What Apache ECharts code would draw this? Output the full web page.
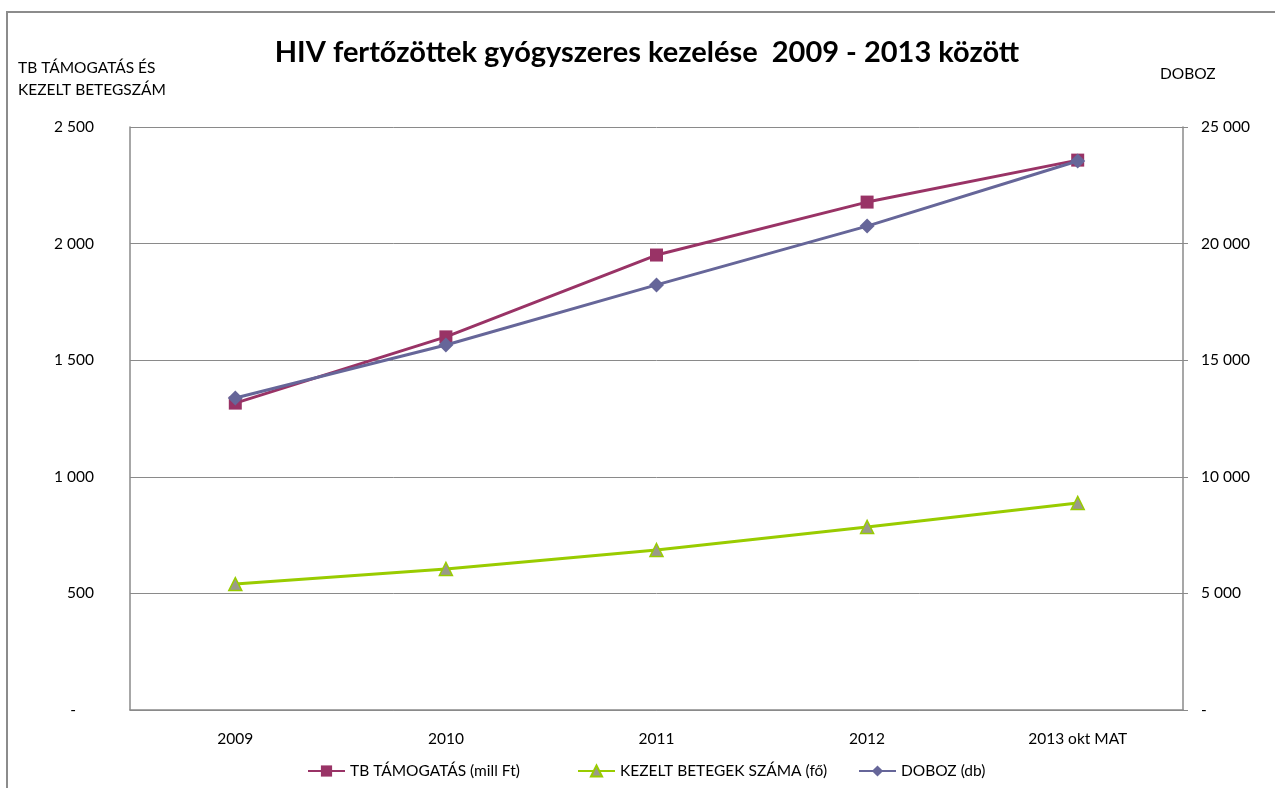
<!DOCTYPE html>
<html>
<head>
<meta charset="utf-8">
<script src="https://cdn.jsdelivr.net/npm/echarts@6/dist/echarts.min.js"></script>
<style>
  html, body { margin: 0; padding: 0; background: #fff; }
  #chart { width: 1275px; height: 788px; }
</style>
</head>
<body>
<div id="chart"></div>
<script>
const FONT = "Lato, 'Open Sans', sans-serif";
const GRID_COLOR = "#8a8a8a";
const TB_COLOR = "#993366";
const KEZELT_COLOR = "#99cc00";
const DOBOZ_COLOR = "#666699";
const LABEL_SIZE = 15.5;

const categories = ["2009", "2010", "2011", "2012", "2013 okt MAT"];
const tbTamogatas = [1316, 1600, 1951, 2178, 2358];
const kezeltBetegek = [540, 605, 686, 785, 888];
const doboz = [13380, 15650, 18230, 20750, 23540];

const leftTicks = { min: 0, max: 2500, interval: 500 };
const rightTicks = { min: 0, max: 25000, interval: 5000 };

const fmtNum = (v) => String(v).replace(/\B(?=(\d{3})+(?!\d))/g, " ");

const legendText = { fontSize: LABEL_SIZE, color: "#000", fontFamily: FONT };

const chart = echarts.init(document.getElementById("chart"), null, { renderer: "canvas" });

chart.setOption({
  backgroundColor: "#fff",
  animation: false,
  textStyle: { fontFamily: FONT },
  title: {
    text: "HIV fertőzöttek gyógyszeres kezelése  2009 - 2013 között",
    left: 642,
    textAlign: "center",
    top: 33,
    textStyle: { fontSize: 29, fontWeight: "bold", color: "#000", fontFamily: FONT },
  },
  graphic: [
    {
      type: "rect",
      shape: { x: 7, y: 12, width: 1400, height: 900 },
      style: { fill: "none", stroke: "#8c8c8c", lineWidth: 2 },
      silent: true,
    },
    {
      type: "text",
      left: 18,
      top: 57,
      style: {
        text: "TB TÁMOGATÁS ÉS\nKEZELT BETEGSZÁM",
        font: LABEL_SIZE + "px " + FONT,
        lineHeight: 22,
        fill: "#000",
      },
    },
    {
      type: "text",
      left: 1160,
      top: 66,
      style: { text: "DOBOZ", font: LABEL_SIZE + "px " + FONT, fill: "#000" },
    },
  ],
  grid: { left: 130, right: 92, top: 127, bottom: 78, containLabel: false },
  legend: [
    {
      data: ["TB TÁMOGATÁS (mill Ft)"],
      left: 307,
      top: 763,
      padding: 0,
      itemWidth: 37,
      itemHeight: 14,
      textStyle: legendText,
    },
    {
      data: ["KEZELT BETEGEK SZÁMA (fő)"],
      left: 577,
      top: 763,
      padding: 0,
      itemWidth: 37,
      itemHeight: 14,
      textStyle: legendText,
    },
    {
      data: ["DOBOZ (db)"],
      left: 858,
      top: 763,
      padding: 0,
      itemWidth: 37,
      itemHeight: 14,
      textStyle: legendText,
    },
  ],
  xAxis: {
    type: "category",
    data: categories,
    boundaryGap: true,
    axisLine: { lineStyle: { color: GRID_COLOR, width: 1.5 } },
    axisTick: { show: false },
    axisLabel: { color: "#000", fontSize: LABEL_SIZE, margin: 21, fontFamily: FONT },
  },
  yAxis: [
    {
      type: "value",
      position: "left",
      ...leftTicks,
      axisLine: { show: true, lineStyle: { color: GRID_COLOR, width: 1.5 } },
      axisTick: { show: false },
      splitLine: { show: true, lineStyle: { color: GRID_COLOR, width: 1 } },
      axisLabel: {
        color: "#000",
        fontSize: LABEL_SIZE,
        margin: 36,
        fontFamily: FONT,
        formatter: (v) => (v === 0 ? "{d|-}" : fmtNum(v)),
        rich: { d: { fontSize: LABEL_SIZE, color: "#000", padding: [0, 18, 0, 0], fontFamily: FONT } },
      },
    },
    {
      type: "value",
      position: "right",
      ...rightTicks,
      axisLine: { show: true, lineStyle: { color: GRID_COLOR, width: 1.5 } },
      axisTick: { show: true, length: 5, lineStyle: { color: GRID_COLOR } },
      splitLine: { show: false },
      axisLabel: {
        color: "#000",
        fontSize: LABEL_SIZE,
        margin: 18,
        fontFamily: FONT,
        formatter: (v) => (v === 0 ? "-" : fmtNum(v)),
      },
    },
  ],
  series: [
    {
      name: "TB TÁMOGATÁS (mill Ft)",
      type: "line",
      yAxisIndex: 0,
      data: tbTamogatas,
      symbol: "rect",
      symbolSize: 13,
      lineStyle: { color: TB_COLOR, width: 3 },
      itemStyle: { color: TB_COLOR },
      z: 3,
    },
    {
      name: "KEZELT BETEGEK SZÁMA (fő)",
      type: "line",
      yAxisIndex: 0,
      data: kezeltBetegek,
      symbol: "triangle",
      symbolSize: 13,
      lineStyle: { color: KEZELT_COLOR, width: 3 },
      itemStyle: { color: "#9a9a8a", borderColor: KEZELT_COLOR, borderWidth: 1.5 },
      z: 2,
    },
    {
      name: "DOBOZ (db)",
      type: "line",
      yAxisIndex: 1,
      data: doboz,
      symbol: "diamond",
      symbolSize: 15,
      lineStyle: { color: DOBOZ_COLOR, width: 3 },
      itemStyle: { color: DOBOZ_COLOR },
      z: 4,
    },
  ],
});
</script>
</body>
</html>
